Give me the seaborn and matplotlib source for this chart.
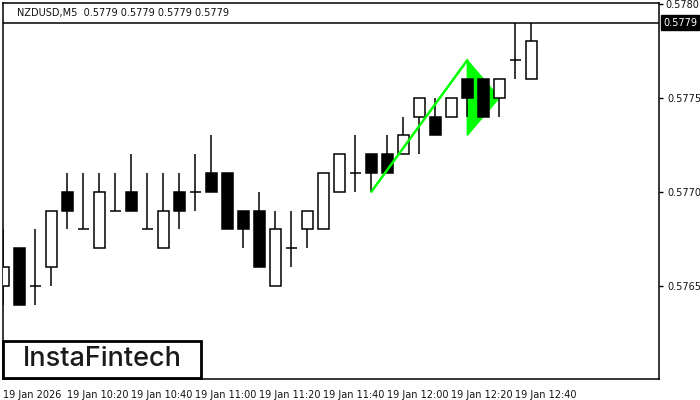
import pandas as pd
import seaborn as sns
import matplotlib.pyplot as plt
import matplotlib.transforms as mtransforms
from matplotlib.patches import Polygon, Rectangle

# NZDUSD M5 candles, 19 Jan 2026 from 10:00
opens = [0.5765, 0.5767, 0.5765, 0.5766, 0.5770, 0.5768, 0.5767, 0.5769, 0.5770, 0.5768,
         0.5767, 0.5770, 0.5770, 0.5771, 0.5771, 0.5769, 0.5769, 0.5765, 0.5767, 0.5768,
         0.5768, 0.5770, 0.5771, 0.5772, 0.5772, 0.5772, 0.5774, 0.5774, 0.5774, 0.5776,
         0.5776, 0.5775, 0.5777, 0.5776]
highs = [0.5768, 0.5767, 0.5768, 0.5769, 0.5771, 0.5771, 0.5771, 0.5771, 0.5772, 0.5771,
         0.5771, 0.5771, 0.5772, 0.5773, 0.5771, 0.5769, 0.5770, 0.5769, 0.5769, 0.5769,
         0.5771, 0.5772, 0.5773, 0.5772, 0.5773, 0.5774, 0.5775, 0.5775, 0.5775, 0.5776,
         0.5776, 0.5776, 0.5779, 0.5779]
lows = [0.5764, 0.5764, 0.5764, 0.5765, 0.5768, 0.5768, 0.5767, 0.5769, 0.5769, 0.5768,
        0.5767, 0.5768, 0.5769, 0.5770, 0.5768, 0.5767, 0.5766, 0.5765, 0.5766, 0.5767,
        0.5768, 0.5770, 0.5770, 0.5770, 0.5771, 0.5772, 0.5772, 0.5773, 0.5774, 0.5774,
        0.5774, 0.5774, 0.5776, 0.5776]
closes = [0.5766, 0.5764, 0.5765, 0.5769, 0.5769, 0.5768, 0.5770, 0.5769, 0.5769, 0.5768,
          0.5769, 0.5769, 0.5770, 0.5770, 0.5768, 0.5768, 0.5766, 0.5768, 0.5767, 0.5769,
          0.5771, 0.5772, 0.5771, 0.5771, 0.5771, 0.5773, 0.5775, 0.5773, 0.5775, 0.5775,
          0.5774, 0.5776, 0.5777, 0.5778]

x_tick_idx = [0, 4, 8, 12, 16, 20, 24, 28, 32]
x_tick_labels = ["19 Jan 2026", "19 Jan 10:20", "19 Jan 10:40", "19 Jan 11:00", "19 Jan 11:20",
                 "19 Jan 11:40", "19 Jan 12:00", "19 Jan 12:20", "19 Jan 12:40"]
y_ticks = [0.5765, 0.5770, 0.5775, 0.5780]
last_price = 0.5779

# bullish pennant: pole and triangle (candle index, price)
pole_x = [23, 29]
pole_y = [0.5770, 0.5777]
flag_x = [29, 29, 31]
flag_y = [0.5777, 0.5773, 0.5775]

df = pd.DataFrame({"open": opens, "high": highs, "low": lows, "close": closes})
df["idx"] = range(len(df))

sns.set_theme(style="white")
plt.rcParams['font.family'] = ['DejaVu Sans']

fig = plt.figure(figsize=(7, 4), dpi=100)
ax = fig.add_axes([3 / 700, 1 - 379 / 400, 656 / 700, 376 / 400])

green = "#00ff00"
ax.add_patch(Polygon(list(zip(flag_x, flag_y)), closed=True, facecolor=green,
                     edgecolor=green, lw=1, zorder=1))

# wicks
ax.vlines(df["idx"], df["low"], df["high"], color="black", lw=1.1, zorder=2)

# bodies
body_w = 0.66
moving = df[df["open"] != df["close"]]
bottoms = moving[["open", "close"]].min(axis=1)
heights = (moving["close"] - moving["open"]).abs()
colors = ["white" if c > o else "black" for o, c in zip(moving["open"], moving["close"])]
ax.bar(moving["idx"], heights, bottom=bottoms, width=body_w, color=colors,
       edgecolor="black", linewidth=1.1, zorder=3)

# doji
doji = df[df["open"] == df["close"]]
ax.hlines(doji["close"], doji["idx"] - body_w / 2, doji["idx"] + body_w / 2,
          color="black", lw=1.1, zorder=3)

sns.lineplot(x=pole_x, y=pole_y, ax=ax, color=green, lw=1.8, zorder=4)

# current price line
ax.axhline(last_price, color="black", lw=1.1, zorder=2)

ax.set_xlim(-0.02, 40.98)
ax.set_ylim(0.576004, 0.578004)

ax.yaxis.tick_right()
ax.set_yticks(y_ticks)
# top label is drawn separately so it stays inside the canvas
ax.set_yticklabels([f"{v:.4f}" for v in y_ticks[:-1]] + [""], va="center_baseline")
ax.set_xticks(x_tick_idx)
ax.set_xticklabels(x_tick_labels, ha="left")
ax.tick_params(axis="both", length=3, width=1, color="black", labelsize=7,
               labelcolor="#111111", pad=3, direction="out")
ax.tick_params(axis="x", length=4, pad=4)
ax.tick_params(axis="y", right=True, left=False)
for s in ax.spines.values():
    s.set_visible(True)
    s.set_color("black")
    s.set_linewidth(1.1)
ax.grid(False)

fig.text(665 / 700, 1 - 0.5 / 400, f"{y_ticks[-1]:.4f}", ha="left", va="top",
         fontsize=7, color="#111111")

trans = mtransforms.blended_transform_factory(ax.transAxes, ax.transData)
ax.text(1.0 + 4 / 656, last_price, f"{last_price:.4f}", transform=trans, ha="left",
        va="center", fontsize=7, color="white", clip_on=False, zorder=10,
        bbox=dict(boxstyle="square,pad=0.25", fc="black", ec="black"))

ax.text(14 / 656, 1 - 10 / 376, "NZDUSD,M5  0.5779 0.5779 0.5779 0.5779",
        transform=ax.transAxes, ha="left", va="center", fontsize=7, color="#111111")

# logo
fig.add_artist(Rectangle((3 / 700, 1 - 378 / 400), 198 / 700, 37 / 400,
                         transform=fig.transFigure, facecolor="white",
                         edgecolor="black", lw=2, zorder=20))
fig.text(102 / 700, 1 - 359.5 / 400, "InstaFintech", ha="center", va="center",
         fontsize=19.5, family="Inter", fontweight="medium", color="#1a1a1a", zorder=21)

fig.savefig("out.png", dpi=100)
